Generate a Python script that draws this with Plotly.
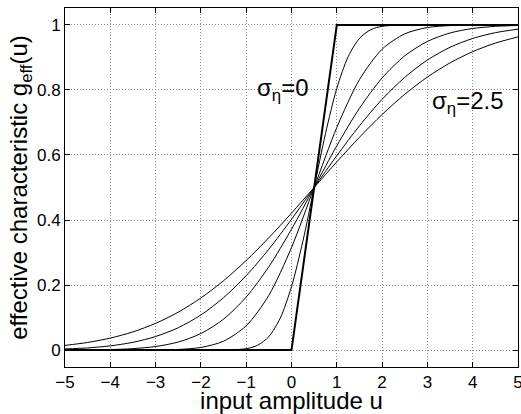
import plotly.graph_objects as go

# ---- data ----
u_step = [-5, 0, 1, 5]
g_sigma0 = [0, 0, 1, 1]

u_fine = [-5, -2, -1.5, -1, -0.75, -0.5, -0.25, 0, 0.25, 0.5, 0.75, 1, 1.25, 1.5, 1.75, 2, 2.5, 3, 5]
g_sigma05 = [0, 0, 0.0002, 0.0043, 0.0147, 0.0415, 0.0979, 0.1951, 0.3342, 0.5,
             0.6658, 0.8049, 0.9021, 0.9585, 0.9853, 0.9957, 0.9998, 1, 1]

u_coarse = [-5, -4.5, -4, -3.5, -3, -2.5, -2, -1.5, -1, -0.5, 0, 0.5, 1, 1.5, 2, 2.5, 3, 3.5, 4, 4.5, 5]
g_sigma10 = [0, 0, 0, 0.0001, 0.0004, 0.002, 0.0081, 0.0274, 0.0748, 0.1684, 0.3155, 0.5,
             0.6845, 0.8316, 0.9252, 0.9726, 0.9919, 0.998, 0.9996, 0.9999, 1]
g_sigma15 = [0.0002, 0.0005, 0.0016, 0.0044, 0.011, 0.0248, 0.0509, 0.0952, 0.1631, 0.2564, 0.3717, 0.5,
             0.6283, 0.7436, 0.8369, 0.9048, 0.9491, 0.9752, 0.989, 0.9956, 0.9984]
g_sigma20 = [0.0036, 0.0067, 0.013, 0.0239, 0.0417, 0.0688, 0.108, 0.1612, 0.2289, 0.3103, 0.4023, 0.5,
             0.5977, 0.6897, 0.7711, 0.8388, 0.892, 0.9312, 0.9583, 0.9761, 0.987]
g_sigma25 = [0.0144, 0.0235, 0.0369, 0.056, 0.0822, 0.1167, 0.1603, 0.2134, 0.2756, 0.3456, 0.4212, 0.5,
             0.5788, 0.6544, 0.7244, 0.7866, 0.8397, 0.8833, 0.9178, 0.944, 0.9631]

x_ticks = [-5, -4, -3, -2, -1, 0, 1, 2, 3, 4, 5]
y_ticks = [0, 0.2, 0.4, 0.6, 0.8, 1]

FONT = "Liberation Sans, Arial, Helvetica, sans-serif"

fig = go.Figure()
for uu, gg in [(u_fine, g_sigma05), (u_coarse, g_sigma10), (u_coarse, g_sigma15),
               (u_coarse, g_sigma20), (u_coarse, g_sigma25)]:
    fig.add_trace(go.Scatter(x=uu, y=gg, mode="lines",
                             line=dict(color="black", width=1, shape="spline", smoothing=0.8),
                             showlegend=False, hoverinfo="skip"))
fig.add_trace(go.Scatter(x=u_step, y=g_sigma0, mode="lines",
                         line=dict(color="black", width=2),
                         showlegend=False, hoverinfo="skip"))

fig.add_annotation(x=-0.18, y=0.80, text="σ<sub>η</sub>=0", showarrow=False,
                   font=dict(family=FONT, size=24, color="black"))
fig.add_annotation(x=3.89, y=0.76, text="σ<sub>η</sub>=2.5", showarrow=False,
                   font=dict(family=FONT, size=24, color="black"))

axis_common = dict(showline=True, linecolor="black", linewidth=1, mirror="allticks",
                   ticks="inside", ticklen=5, tickcolor="black",
                   showgrid=True, gridcolor="#8c8c8c", griddash="1px,2px", gridwidth=1,
                   zeroline=False, automargin=False, ticklabeloverflow="allow",
                   tickfont=dict(family=FONT, size=17, color="black"))

fig.update_xaxes(range=[-5, 5], tickvals=x_ticks,
                 title=dict(text="input amplitude u", font=dict(family=FONT, size=24, color="black"), standoff=0),
                 **axis_common)
fig.update_yaxes(range=[-0.052, 1.052], tickvals=y_ticks,
                 title=dict(text="effective characteristic g<sub>eff</sub>(u)",
                            font=dict(family=FONT, size=24, color="black"), standoff=2),
                 **axis_common)

fig.update_layout(width=521, height=414, margin=dict(l=65, r=3, t=8, b=47),
                  plot_bgcolor="white", paper_bgcolor="white",
                  font=dict(family=FONT, color="black"))

fig.write_html("out.html", config={"displayModeBar": False},
               post_script="document.body.style.margin='0';document.body.style.overflow='hidden';")
